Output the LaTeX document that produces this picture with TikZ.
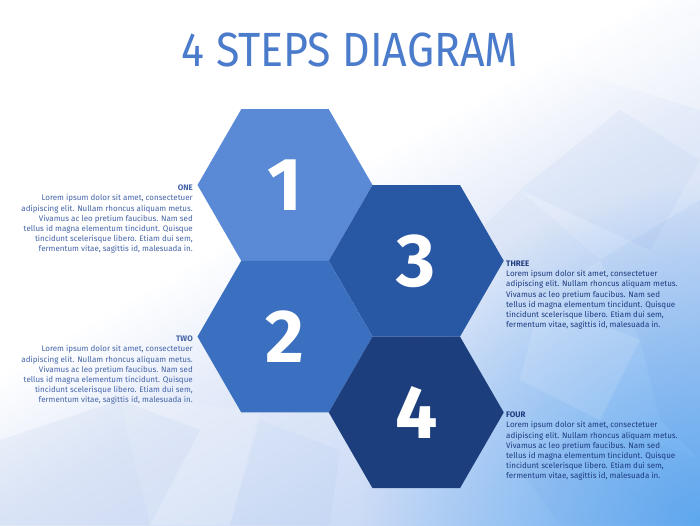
\documentclass[tikz,border=0pt]{standalone}
\usepackage{fontspec}
\setmainfont{Fira Sans}
\usetikzlibrary{shapes.geometric,fadings}
\definecolor{titleblue}{HTML}{4B7BCB}
\definecolor{hexA}{HTML}{5A8AD5}
\definecolor{hexB}{HTML}{3A70BF}
\definecolor{hexC}{HTML}{2857A4}
\definecolor{hexD}{HTML}{1D3E7D}
\definecolor{txtL}{HTML}{4464A8}
\definecolor{txtR}{HTML}{1E3B80}
\definecolor{bgA}{HTML}{E4EBF9}
\definecolor{bgB}{HTML}{CFDDF6}
\definecolor{bgC}{HTML}{B4CEF4}
\definecolor{bgD}{HTML}{58A6F0}
\definecolor{facet}{HTML}{2F6FD0}
\pgfdeclarehorizontalshading{bgshade}{100bp}{color(0bp)=(white); color(46bp)=(white); color(52bp)=(bgA); color(60bp)=(bgB); color(70bp)=(bgC); color(100bp)=(bgC)}
\tikzfading[name=cornerfade, inner color=transparent!10, outer color=transparent!100]
\tikzset{
  hexbox/.style={regular polygon, regular polygon sides=6, minimum size=175pt,
    inner sep=0pt, outer sep=0pt, text=white,
    font=\fontsize{75}{75}\selectfont\bfseries},
  bodyL/.style={anchor=north east, align=right, inner sep=0pt, text=txtL,
    font=\fontsize{8}{10.1}\selectfont},
  bodyR/.style={anchor=north west, align=left, inner sep=0pt, text=txtR,
    font=\fontsize{8}{10.1}\selectfont},
  facetdark/.style={fill=facet, fill opacity=#1, draw=none},
  facetlight/.style={fill=white, fill opacity=#1, draw=none}
}
\newcommand{\loremtext}{Lorem ipsum dolor sit amet, consectetuer\\adipiscing elit. Nullam rhoncus aliquam metus.\\Vivamus ac leo pretium faucibus. Nam sed\\tellus id magna elementum tincidunt. Quisque\\tincidunt scelerisque libero. Etiam dui sem,\\fermentum vitae, sagittis id, malesuada in.}
\begin{document}
\begin{tikzpicture}[x=1pt,y=-1pt]
\useasboundingbox (0,0) rectangle (700,525);
% background
\begin{scope}
\clip (0,0) rectangle (700,525);
\begin{scope}[transform canvas={shift={(350,262.5)}, rotate=-60}]
  \shade[shading=bgshade] (-500,-500) rectangle (500,500);
\end{scope}
\fill[bgD, path fading=cornerfade] (700,525) circle (340);
\fill[facetlight=0.3] (540,60) -- (700,15) -- (700,110) -- cycle;
\fill[facetdark=0.04] (520,190) -- (620,110) -- (700,160) -- (650,250) -- cycle;
\fill[facetdark=0.03] (470,240) -- (520,190) -- (600,260) -- (540,300) -- cycle;
\fill[facetdark=0.05] (600,260) -- (700,200) -- (700,330) -- (640,340) -- cycle;
\fill[facetlight=0.12] (540,300) -- (640,340) -- (600,420) -- (520,380) -- cycle;
\fill[facetdark=0.05] (640,340) -- (700,330) -- (700,460) -- (660,420) -- cycle;
\fill[facetdark=0.04] (520,470) -- (600,420) -- (700,460) -- (700,525) -- (560,525) -- cycle;
\fill[facetdark=0.05] (0,440) -- (120,400) -- (200,430) -- (150,525) -- (0,525) -- cycle;
\fill[facetlight=0.12] (120,400) -- (260,410) -- (230,525) -- (150,525) -- cycle;
\fill[facetdark=0.03] (260,420) -- (340,450) -- (330,525) -- (230,525) -- cycle;
\end{scope}
% title
\node[anchor=base, inner sep=0pt, text=titleblue, font=\fontsize{48}{48}\selectfont] (title) at (350,66.5) {\scalebox{0.895}[1]{4 STEPS DIAGRAM}};
% hexagons
\node[hexbox, fill=hexA] (h1) at (285,185) {1};
\node[hexbox, fill=hexC] (h3) at (416.25,260.8) {3};
\node[hexbox, fill=hexB] (h2) at (285,336.6) {2};
\node[hexbox, fill=hexD] (h4) at (416.25,412.4) {4};
% texts
\node[bodyL] (t1) at (193,185) {\textbf{ONE}\\\loremtext};
\node[bodyL] (t2) at (193,336) {\textbf{TWO}\\\loremtext};
\node[bodyR] (t3) at (506,261) {\textbf{THREE}\\\loremtext};
\node[bodyR] (t4) at (506,412) {\textbf{FOUR}\\\loremtext};
\end{tikzpicture}
\end{document}
